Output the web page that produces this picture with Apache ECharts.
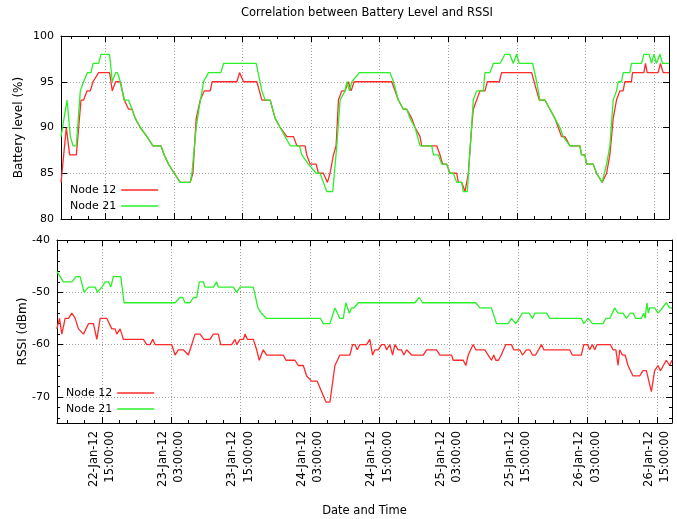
<!DOCTYPE html>
<html><head><meta charset="utf-8">
<script src="https://cdn.jsdelivr.net/npm/echarts@6/dist/echarts.min.js"></script>
<style>html,body{margin:0;padding:0;background:#fff}#c{width:677px;height:519px}</style>
</head><body><div id="c"></div>
<script>
// time values are hours since 22-Jan-2012 00:00
const timeRange = [7.25, 113.6];
const xMajorTicks = [15, 27, 39, 51, 63, 75, 87, 99, 111];
const xMinorTicks = [9, 12, 18, 21, 24, 30, 33, 36, 42, 45, 48, 54, 57, 60, 66, 69, 72, 78, 81, 84, 90, 93, 96, 102, 105, 108];
const batteryTicks = [80, 85, 90, 95, 100];
const rssiMajorTicks = [-70, -60, -50, -40];
const rssiMinorTicks = [-74, -72, -68, -66, -64, -62, -58, -56, -54, -52, -48, -46, -44, -42];
const seriesNames = ['Node 12', 'Node 21'];

const battery12 = [[7.26,84],[8.18,90],[8.76,87],[9.93,87],[10.75,93],[11.2,93],[11.8,94],[12.38,94],[12.85,95],[13.83,96],[15.75,96],[16.22,94],[16.8,95],[17.62,95],[18.32,93],[19.07,92],[19.67,92],[20.24,91],[21.12,90],[22.29,89],[23.33,88],[24.73,88],[25.31,87],[26.06,86],[27.06,85],[28.1,84],[29.85,84],[30.32,85],[30.9,91],[31.6,93],[32.3,94],[33.35,94],[33.7,95],[38.01,95],[38.48,96],[39.17,95],[41.51,95],[42.39,93],[43.84,93],[44.71,91],[45.58,90],[46.75,89],[47.91,89],[48.5,88],[49.95,88],[50.24,87],[50.83,86],[51.88,86],[52.28,85],[53.15,85],[53.85,84],[54.32,85],[54.9,87],[55.37,88],[55.78,93],[56.37,94],[56.94,94],[57.5,95],[58.0,94],[58.52,95],[65.1,95],[65.68,94],[66.26,93],[67.13,92],[67.72,92],[68.6,91],[69.18,90],[70.05,89],[70.34,88],[72.97,88],[73.55,87],[74.0,86],[74.71,86],[75.29,85],[76.46,85],[76.75,84],[77.34,84],[77.92,83],[78.5,85],[79.08,90],[79.37,92],[79.96,93],[80.54,94],[81.41,94],[81.82,95],[83.91,95],[84.32,96],[89.57,96],[90.45,94],[90.92,93],[91.9,93],[92.77,92],[93.64,91],[94.23,90],[94.81,89],[95.39,89],[96.27,88],[98.01,88],[98.31,87],[98.89,87],[99.18,86],[100.34,86],[100.93,85],[101.91,84],[102.68,85],[103.26,87],[103.84,91],[104.42,93],[105.0,94],[105.58,94],[105.87,95],[107.04,95],[107.21,96],[109.2,96],[109.49,97],[109.78,96],[111.7,96],[112.1,97],[112.57,96],[113.6,96]];

const battery21 = [[7.26,89],[8.31,93],[8.88,89],[9.35,88],[9.93,88],[10.63,94],[11.2,95],[11.9,96],[12.5,96],[12.85,97],[13.83,97],[14.25,98],[15.75,98],[16.22,95],[16.8,96],[17.15,96],[17.62,95],[18.32,93],[19.07,93],[19.67,92],[20.24,91],[21.12,90],[22.29,89],[23.33,88],[24.73,88],[25.31,87],[26.06,86],[27.06,85],[28.1,84],[29.85,84],[30.15,85],[30.9,90],[31.38,92],[32.18,95],[33.05,96],[35.22,96],[35.68,97],[41.39,97],[42.39,94],[42.96,93],[43.84,93],[44.71,91],[45.58,90],[46.46,89],[47.33,88],[48.96,88],[49.37,87],[50.53,86],[51.88,85],[52.57,85],[53.15,84],[53.74,83],[54.79,83],[55.49,88],[56.07,93],[56.94,94],[57.24,95],[57.7,94],[58.11,95],[59.44,96],[64.81,96],[65.4,95],[66.26,93],[67.13,92],[67.72,92],[68.3,91],[69.18,90],[70.05,88],[72.1,88],[72.4,87],[73.26,87],[73.84,86],[74.71,86],[75.29,85],[75.87,85],[76.46,84],[77.34,84],[77.62,83],[78.32,83],[79.37,93],[79.96,94],[81.12,94],[81.41,96],[82.28,96],[82.86,97],[84.03,97],[84.91,98],[85.78,98],[86.36,97],[86.95,98],[87.41,97],[89.75,97],[90.45,95],[91.02,93],[91.9,93],[92.77,92],[93.64,91],[94.52,90],[95.1,89],[96.27,88],[98.01,88],[98.31,87],[98.89,87],[99.18,86],[100.34,86],[100.93,85],[101.91,84],[102.68,86],[103.26,88],[103.84,93],[104.42,94],[104.71,95],[105.3,95],[105.58,96],[106.75,96],[107.04,97],[108.79,97],[109.2,98],[110.13,98],[110.54,97],[110.94,98],[111.41,97],[111.99,98],[112.46,97],[113.6,97]];

const rssi12 = [[7.22,-57],[7.68,-55],[8.09,-58],[8.66,-55],[9.23,-55],[9.82,-54],[10.39,-55],[10.96,-57],[11.82,-58],[12.69,-56],[13.55,-56],[14.14,-59],[14.71,-55],[15.86,-55],[16.73,-57],[17.3,-57],[17.59,-58],[18.16,-57],[18.73,-59],[22.19,-59],[22.78,-60],[23.35,-60],[23.81,-59],[24.21,-60],[27.09,-60],[27.67,-62],[28.24,-61],[29.1,-61],[29.96,-62],[30.55,-60],[31.12,-58],[31.98,-58],[32.67,-59],[33.71,-59],[34.28,-58],[35.15,-58],[35.56,-60],[37.46,-60],[38.03,-59],[38.33,-60],[38.9,-59],[39.5,-59],[39.76,-58],[40.17,-59],[41.2,-59],[41.78,-61],[42.23,-63],[42.92,-61],[43.5,-62],[46.38,-62],[46.85,-63],[48.4,-63],[48.97,-64],[49.84,-64],[50.42,-66],[51.28,-67],[52.25,-67],[53.01,-69],[53.76,-71],[54.45,-71],[55.31,-64],[56.17,-62],[57.9,-62],[58.36,-60],[58.8,-60],[59.16,-61],[59.63,-60],[60.78,-60],[61.35,-59],[61.82,-62],[62.22,-61],[62.8,-61],[63.37,-60],[63.9,-60],[64.24,-61],[64.81,-60],[65.28,-62],[65.68,-60],[66.26,-61],[66.8,-61],[67.24,-62],[67.72,-61],[68.58,-62],[70.59,-62],[71.16,-61],[72.89,-61],[73.46,-62],[75.48,-62],[75.77,-63],[77.5,-63],[77.95,-64],[78.36,-62],[79.21,-60],[79.67,-61],[81.23,-61],[82.38,-63],[82.78,-62],[83.13,-63],[83.6,-63],[84.07,-62],[84.86,-60],[85.84,-60],[86.23,-61],[87.27,-61],[87.74,-62],[88.43,-61],[89.0,-61],[89.47,-62],[90.0,-62],[91.03,-60],[91.43,-61],[95.9,-61],[96.37,-62],[97.92,-62],[98.34,-60],[99.0,-60],[99.37,-61],[99.84,-60],[100.24,-61],[100.63,-60],[102.94,-60],[103.4,-61],[103.9,-61],[104.27,-64],[104.56,-61],[105.02,-62],[105.5,-62],[105.99,-64],[106.86,-66],[108.01,-66],[108.59,-65],[109.17,-65],[110.03,-69],[110.6,-65],[111.18,-64],[111.59,-65],[112.62,-63],[113.19,-64],[113.6,-63]];

const rssi21 = [[7.22,-46],[8.37,-48],[9.82,-48],[10.56,-47],[11.25,-47],[11.94,-50],[12.69,-49],[13.84,-49],[14.24,-50],[15.0,-49],[15.57,-48],[16.14,-48],[16.55,-49],[17.0,-47],[18.28,-47],[18.85,-52],[27.67,-52],[28.53,-51],[29.0,-51],[29.39,-52],[30.26,-52],[30.83,-51],[31.41,-51],[31.86,-48],[32.55,-48],[32.85,-49],[34.28,-49],[34.87,-48],[35.15,-49],[37.74,-49],[38.33,-50],[38.9,-49],[41.2,-49],[42.0,-53],[42.6,-54],[43.5,-55],[52.84,-55],[53.3,-56],[54.45,-56],[55.31,-53],[56.17,-55],[56.75,-55],[57.2,-52],[57.78,-54],[58.18,-53],[58.6,-53],[59.34,-52],[69.13,-52],[69.88,-51],[70.46,-52],[79.67,-52],[80.36,-53],[82.38,-53],[83.25,-56],[85.26,-56],[85.84,-55],[86.58,-56],[87.74,-54],[88.89,-54],[89.47,-55],[89.87,-54],[91.89,-54],[92.46,-55],[97.94,-55],[98.34,-56],[99.09,-55],[99.84,-56],[101.67,-56],[102.14,-55],[102.83,-55],[103.69,-53],[104.27,-54],[105.13,-54],[105.71,-55],[106.4,-54],[106.9,-54],[107.32,-55],[108.3,-55],[108.7,-54],[108.95,-55],[109.27,-52],[109.5,-54],[109.74,-53],[110.6,-53],[111.18,-54],[111.93,-53],[112.62,-52],[113.19,-53],[113.6,-53]];

const FONT = 'DejaVu Sans';
const BLACK = '#000';
const RED = '#ff2a2a';
const GREEN = '#2af02a';
const txt = {fontFamily: FONT, fontSize: 11.5, color: BLACK};
const tickTxt = {fontFamily: FONT, fontSize: 11, color: BLACK};

function two(n){ return (n < 10 ? '0' : '') + n; }
function timeLabel(h) {
  const day = 22 + Math.floor(h / 24);
  const hr = Math.round(h % 24);
  return day + '-Jan-12\n' + two(hr) + ':00:00';
}

function xAxes(grid, withLabels) {
  const base = {gridIndex: grid, type: 'value', min: timeRange[0], max: timeRange[1]};
  const tick = (vals, len) => ({show: true, inside: true, length: len, customValues: vals, lineStyle: {color: BLACK, width: 1}});
  const line = {show: true, lineStyle: {color: BLACK, width: 1}};
  return [
    Object.assign({}, base, {
      position: 'bottom', axisLine: line, axisTick: tick(xMajorTicks, 6),
      axisLabel: withLabels ? Object.assign({show: true, customValues: xMajorTicks, rotate: 90, margin: 8, lineHeight: 16.5,
        formatter: v => timeLabel(v)}, txt) : {show: false},
      splitLine: {show: true, lineStyle: {color: '#a0a0a0', width: 1, type: [1, 2]}},
      name: withLabels ? 'Date and Time' : '', nameLocation: 'middle', nameGap: 82, nameMoveOverlap: false, nameTextStyle: txt
    }),
    Object.assign({}, base, {position: 'bottom', axisLine: {show: false}, axisTick: tick(xMinorTicks, 3), axisLabel: {show: false}, splitLine: {show: false}}),
    Object.assign({}, base, {position: 'top', axisLine: line, axisTick: tick(xMajorTicks, 6), axisLabel: {show: false}, splitLine: {show: false}}),
    Object.assign({}, base, {position: 'top', axisLine: {show: false}, axisTick: tick(xMinorTicks, 3), axisLabel: {show: false}, splitLine: {show: false}})
  ];
}

function yAxes(grid, min, max, major, minor, name, nameGap, labelMargin) {
  const base = {gridIndex: grid, type: 'value', min: min, max: max};
  const tick = (vals, len) => ({show: true, inside: true, length: len, customValues: vals, lineStyle: {color: BLACK, width: 1}});
  const line = {show: true, lineStyle: {color: BLACK, width: 1}};
  const axes = [
    Object.assign({}, base, {position: 'left', axisLine: line, axisTick: tick(major, 6),
      axisLabel: Object.assign({show: true, customValues: major, margin: labelMargin}, tickTxt),
      splitLine: {show: true, lineStyle: {color: '#a0a0a0', width: 1, type: [1, 2]}},
      name: name, nameLocation: 'middle', nameGap: nameGap, nameMoveOverlap: false,
      nameTextStyle: Object.assign({}, txt, {fontSize: 12})}),
    Object.assign({}, base, {position: 'right', axisLine: line, axisTick: tick(major, 6), axisLabel: {show: false}, splitLine: {show: false}})
  ];
  if (minor) {
    axes.push(Object.assign({}, base, {position: 'left', axisLine: {show: false}, axisTick: tick(minor, 3), axisLabel: {show: false}, splitLine: {show: false}}));
    axes.push(Object.assign({}, base, {position: 'right', axisLine: {show: false}, axisTick: tick(minor, 3), axisLabel: {show: false}, splitLine: {show: false}}));
  }
  return axes;
}

function lineSeries(name, data, color, xi, yi) {
  return {name: name, type: 'line', data: data, xAxisIndex: xi, yAxisIndex: yi,
    showSymbol: false, symbol: 'none', lineStyle: {color: color, width: 1.3}, itemStyle: {color: color}, animation: false};
}

function legendAt(left, top) {
  return {left: left, top: top, padding: 0, orient: 'vertical', align: 'right', icon: 'rect', itemWidth: 37, itemHeight: 1.5,
    itemGap: 2, selectedMode: false, textStyle: Object.assign({lineHeight: 14}, tickTxt), data: seriesNames};
}

const chart = echarts.init(document.getElementById('c'), null, {renderer: 'canvas'});
chart.setOption({
  backgroundColor: '#fff',
  animation: false,
  title: {text: 'Correlation between Battery Level and RSSI', left: 367, textAlign: 'center', top: 7, padding: 0,
    textStyle: {fontFamily: FONT, fontSize: 11.5, fontWeight: 'normal', color: BLACK}},
  legend: [legendAt(70, 183), legendAt(66, 386)],
  grid: [
    {left: 61, top: 36, width: 608, height: 183},
    {left: 57, top: 240, width: 615, height: 183}
  ],
  xAxis: xAxes(0, false).concat(xAxes(1, true)),
  yAxis: yAxes(0, 80, 100, batteryTicks, null, 'Battery level (%)', 36, 7)
    .concat(yAxes(1, -75, -40, rssiMajorTicks, rssiMinorTicks, 'RSSI (dBm)', 28, 7)),
  series: [
    lineSeries(seriesNames[0], battery12, RED, 0, 0),
    lineSeries(seriesNames[1], battery21, GREEN, 0, 0),
    lineSeries(seriesNames[0], rssi12, RED, 4, 2),
    lineSeries(seriesNames[1], rssi21, GREEN, 4, 2)
  ]
});
</script></body></html>
